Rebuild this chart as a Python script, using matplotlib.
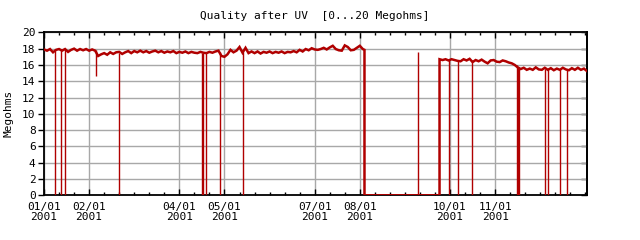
import matplotlib
matplotlib.use("Agg")
import matplotlib.pyplot as plt
import numpy as np

plt.rcParams["font.family"] = ["DejaVu Sans Mono"]
plt.rcParams["font.size"] = 8

RED = "#b00000"

# ── data (x = days since 01/01, 30-day months as on the original axis) ────────
seg1_days = np.arange(0, 214, 2)
seg1_vals = [
    17.90, 17.75, 17.95, 17.55, 17.85, 17.95, 17.75, 17.95, 17.60, 17.85,
    18.00, 17.75, 17.95, 17.80, 17.95, 17.75, 17.90, 17.75, 17.10, 17.30,
    17.45, 17.25, 17.55, 17.35, 17.55, 17.60, 17.35, 17.55, 17.70, 17.45,
    17.70, 17.55, 17.75, 17.55, 17.70, 17.50, 17.65, 17.75, 17.55, 17.70,
    17.50, 17.65, 17.55, 17.70, 17.45, 17.60, 17.50, 17.65, 17.45, 17.60,
    17.50, 17.45, 17.60, 17.50, 17.45, 17.60, 17.50, 17.65, 17.75, 17.10,
    17.00, 17.30, 17.85, 17.55, 17.75, 18.20, 17.50, 18.10, 17.45, 17.65,
    17.45, 17.65, 17.40, 17.60, 17.50, 17.65, 17.45, 17.60, 17.50, 17.65,
    17.45, 17.60, 17.55, 17.70, 17.55, 17.85, 17.65, 17.95, 17.80, 18.05,
    17.90, 17.85, 17.95, 18.10, 17.90, 18.15, 18.35, 17.95, 17.80, 17.75,
    18.40, 18.20, 17.80, 17.85, 18.10, 18.35, 17.95,
]
seg1_end = (213.1, 17.85)

gap_days = [213.1, 263.0]
gap_vals = [0.0, 0.0]

seg3_days = np.arange(263, 362, 2)
seg3_vals = [
    16.70, 16.60, 16.70, 16.55, 16.70, 16.60, 16.50, 16.45, 16.70, 16.55,
    16.75, 16.35, 16.60, 16.45, 16.65, 16.40, 16.20, 16.55, 16.60, 16.40,
    16.35, 16.55, 16.45, 16.30, 16.20, 16.00, 15.70, 15.50, 15.65, 15.40,
    15.55, 15.40, 15.70, 15.45, 15.40, 15.65, 15.40, 15.60, 15.35, 15.55,
    15.40, 15.65, 15.45, 15.35, 15.60, 15.40, 15.65, 15.40, 15.55, 15.25,
]

# short drop-outs / spikes (vertical strokes)
drop_days = [7.5, 11.5, 14.2, 34.4, 50.1, 105.3, 106.0, 108.0, 117.3, 132.6,
             248.6, 269.0, 275.0, 284.3, 314.5, 314.9, 315.3, 315.7,
             332.9, 334.9, 342.9, 347.5]
drop_lo = [0, 0, 0, 14.6, 0, 0, 0, 0, 0, 0,
           0, 0, 0, 0, 0, 0, 0, 0,
           0, 0, 0, 0]
drop_hi = [17.9, 17.9, 17.9, 17.8, 17.5, 17.5, 17.5, 17.5, 17.6, 17.6,
           17.6, 16.6, 16.6, 16.6, 16.0, 15.8, 15.7, 15.6,
           15.5, 15.5, 15.5, 15.5]

major_days = [0, 30, 90, 120, 180, 210, 270, 300]
major_labels = ["01/01\n2001", "02/01\n2001", "04/01\n2001", "05/01\n2001",
                "07/01\n2001", "08/01\n2001", "10/01\n2001", "11/01\n2001"]
minor_days = np.arange(0, 361, 10)
y_ticks = np.arange(0, 21, 2)
X_MAX = 361.3

# ── plot ──────────────────────────────────────────────────────────────────────
fig = plt.figure(figsize=(6.4, 2.4), dpi=100)
ax = fig.add_axes([0.06875, 0.18625, 0.849, 0.679])

days = np.concatenate([seg1_days, [seg1_end[0]], gap_days, seg3_days])
vals = np.concatenate([seg1_vals, [seg1_end[1]], gap_vals, seg3_vals])
ax.plot(days, vals, color=RED, linewidth=1.8, solid_joinstyle="miter", zorder=3)
ax.vlines(drop_days, drop_lo, drop_hi, color=RED, linewidth=1.0, zorder=3)

ax.set_xlim(0, X_MAX)
ax.set_ylim(0, 20)

ax.set_xticks(major_days)
ax.set_xticklabels(major_labels)
ax.set_xticks([d for d in minor_days if d not in major_days], minor=True)
ax.set_yticks(y_ticks)

for lab in ax.get_xticklabels():
    lab.set_linespacing(1.0)

ax.grid(True, which="major", color="#a8a8a8", linewidth=1.0, zorder=0)
ax.set_axisbelow(True)

ax.tick_params(axis="x", which="major", direction="in", top=True,
               length=4, width=1, pad=5)
ax.tick_params(axis="x", which="minor", direction="in", top=True,
               length=2.5, width=1)
ax.tick_params(axis="y", which="major", direction="out", right=False,
               length=4, width=1, pad=2)

sec = ax.secondary_yaxis("right")
sec.set_yticks(y_ticks)
sec.set_yticklabels([])
sec.tick_params(direction="in", length=4, width=1)
sec.spines["right"].set_linewidth(1.3)

for s in ax.spines.values():
    s.set_linewidth(1.3)

ax.set_ylabel("Megohms", labelpad=6)
fig.text(0.492, 0.935, "Quality after UV  [0...20 Megohms]",
         ha="center", va="center")

fig.savefig("out.png", dpi=100)
